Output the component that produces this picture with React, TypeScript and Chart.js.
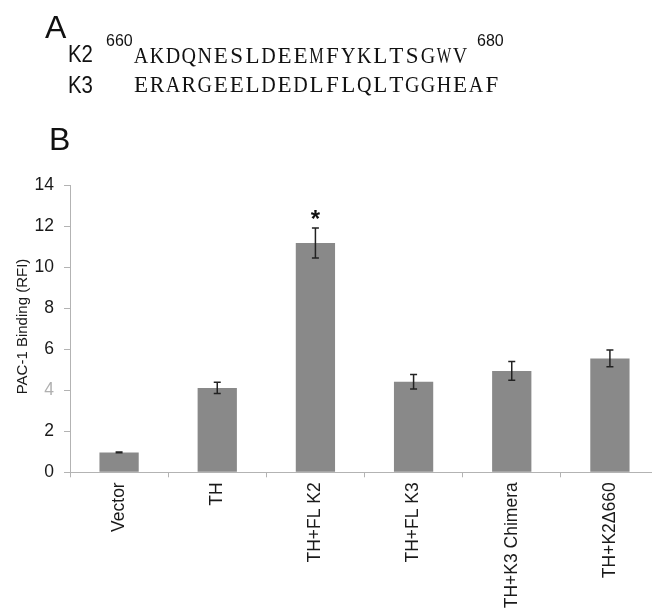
import React, { useEffect, useRef } from "react";
import { Chart, registerables } from "chart.js";

Chart.register(...registerables);

const categories = ["Vector", "TH", "TH+FL K2", "TH+FL K3", "TH+K3 Chimera", "TH+K2\u0394660"];
const values = [0.97, 4.12, 11.19, 4.42, 4.95, 5.56];
const errors = [0.02, 0.27, 0.73, 0.35, 0.46, 0.41];
const marks = ["", "", "*", "", "", ""];
const yTicks = [0, 2, 4, 6, 8, 10, 12, 14];
const yTitle = "PAC-1 Binding (RFI)";
const k2Seq = "AKDQNESLDEEMFYKLTSGWV";
const k3Seq = "ERARGEELDEDLFLQLTGGHEAF";
const k2Start = "660";
const k2End = "680";

const sans = "'Liberation Sans', Arial, sans-serif";
const serif = "'Liberation Serif', 'DejaVu Serif', serif";
const seqFontSize = 23;

let measureCtx: CanvasRenderingContext2D | null = null;
function glyphWidth(ch: string): number {
  if (!measureCtx) {
    const c = document.createElement("canvas");
    measureCtx = c.getContext("2d");
  }
  if (!measureCtx) return 12;
  measureCtx.font = `${seqFontSize}px ${serif}`;
  return measureCtx.measureText(ch).width;
}

const errorBarPlugin = {
  id: "errorBars",
  afterDatasetsDraw(chart: any) {
    const ctx = chart.ctx;
    const meta = chart.getDatasetMeta(0);
    const y = chart.scales.y;
    ctx.save();
    meta.data.forEach((bar: any, i: number) => {
      const x = bar.x;
      const top = y.getPixelForValue(values[i] + errors[i]);
      const bot = y.getPixelForValue(values[i] - errors[i]);
      ctx.strokeStyle = "#222";
      ctx.lineWidth = 1.5;
      ctx.beginPath();
      ctx.moveTo(x, top);
      ctx.lineTo(x, bot);
      ctx.moveTo(x - 3.5, top);
      ctx.lineTo(x + 3.5, top);
      ctx.moveTo(x - 3.5, bot);
      ctx.lineTo(x + 3.5, bot);
      ctx.stroke();
      if (marks[i]) {
        ctx.fillStyle = "#111";
        ctx.font = "bold 24px 'Liberation Sans', Arial, sans-serif";
        ctx.textAlign = "center";
        ctx.textBaseline = "alphabetic";
        ctx.fillText(marks[i], x, top - 1);
      }
    });
    ctx.restore();
  },
};

function MonoRow({ text, x, y }: { text: string; x: number; y: number }) {
  const cell = 15.95;
  const maxW = 14.5;
  return (
    <g>
      {text.split("").map((ch, i) => {
        const w = glyphWidth(ch);
        const cx = x + i * cell + cell / 2;
        const extra: any = {};
        if (w > maxW) {
          extra.textLength = maxW;
          extra.lengthAdjust = "spacingAndGlyphs";
        }
        return (
          <text
            key={i}
            x={cx}
            y={y}
            textAnchor="middle"
            fontFamily={serif}
            fontSize={seqFontSize}
            fill="#111"
            {...extra}
          >
            {ch}
          </text>
        );
      })}
    </g>
  );
}

export default function App() {
  const ref = useRef<HTMLCanvasElement | null>(null);
  useEffect(() => {
    if (!ref.current) return;
    const axisColor = "#b3b3b3";
    const chart = new Chart(ref.current, {
      type: "bar",
      data: {
        labels: categories,
        datasets: [
          {
            data: values,
            backgroundColor: "#898989",
            borderWidth: 0,
            barPercentage: 0.4,
            categoryPercentage: 1.0,
          },
        ],
      },
      options: {
        animation: false,
        responsive: false,
        devicePixelRatio: 1,
        layout: { padding: { top: 25.5, right: 21, left: 0, bottom: 0 } },
        plugins: { legend: { display: false }, tooltip: { enabled: false } },
        scales: {
          x: {
            afterFit: (s: any) => {
              s.height = 138.7;
            },
            grid: {
              display: true,
              drawOnChartArea: false,
              drawTicks: true,
              tickLength: 5,
              color: axisColor,
              offset: true,
            },
            border: { display: true, color: axisColor },
            ticks: {
              autoSkip: false,
              maxRotation: 90,
              minRotation: 90,
              padding: 5,
              color: "#1a1a1a",
              font: { family: sans, size: 17.5 },
            },
          },
          y: {
            min: 0,
            max: 14,
            afterFit: (s: any) => {
              s.width = 70;
            },
            afterBuildTicks: (s: any) => {
              s.ticks = yTicks.map((v) => ({ value: v }));
            },
            grid: {
              display: true,
              drawOnChartArea: false,
              drawTicks: true,
              tickLength: 6,
              color: axisColor,
            },
            border: { display: true, color: axisColor },
            ticks: {
              padding: 10,
              color: (c: any) => (c.tick && c.tick.value === 4 ? "#b0b0b0" : "#1a1a1a"),
              font: { family: sans, size: 17.5 },
            },
          },
        },
      },
      plugins: [errorBarPlugin],
    });
    return () => chart.destroy();
  }, []);

  return (
    <div
      style={{
        position: "absolute",
        left: 0,
        top: 0,
        width: 652,
        height: 611,
        overflow: "hidden",
        background: "#fff",
      }}
    >
      <canvas
        ref={ref}
        width={680}
        height={451}
        style={{ position: "absolute", left: 0, top: 160, width: 680, height: 451 }}
      />
      <svg
        width={652}
        height={611}
        style={{ position: "absolute", left: 0, top: 0, pointerEvents: "none" }}
      >
        <text x={45} y={38} fontFamily={sans} fontSize={32} fill="#111">A</text>
        <text x={68} y={61.7} fontFamily={sans} fontSize={24} fill="#111" transform="translate(68 0) scale(0.85 1) translate(-68 0)">K2</text>
        <text x={68} y={92.7} fontFamily={sans} fontSize={24} fill="#111" transform="translate(68 0) scale(0.85 1) translate(-68 0)">K3</text>
        <text x={106} y={45.7} fontFamily={sans} fontSize={16} fill="#111">{k2Start}</text>
        <MonoRow text={k2Seq} x={133} y={63.3} />
        <text x={477} y={45.7} fontFamily={sans} fontSize={16} fill="#111">{k2End}</text>
        <MonoRow text={k3Seq} x={133} y={91.7} />
        <text x={49} y={150} fontFamily={sans} fontSize={32} fill="#111">B</text>
        <text
          x={0}
          y={0}
          transform="translate(27 326.5) rotate(-90)"
          textAnchor="middle"
          fontFamily={sans}
          fontSize={15}
          fill="#1a1a1a"
        >
          {yTitle}
        </text>
      </svg>
    </div>
  );
}
